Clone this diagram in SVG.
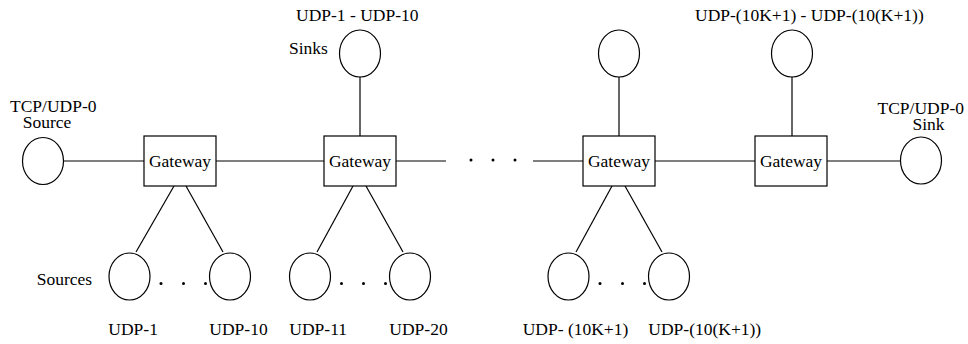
<svg xmlns="http://www.w3.org/2000/svg" width="968" height="344" viewBox="0 0 968 344">
<style>
text{font-family:"Liberation Serif","Times New Roman",serif;font-size:17.5px;fill:#000}
.n{fill:#fff;stroke:#000;stroke-width:1.2}
.c line{stroke:#000;stroke-width:1.2}
.d circle{fill:#000}
.m{text-anchor:middle}
</style>
<rect width="968" height="344" fill="#fff"/>
<g class="c" id="connectors">
<line x1="63.5" y1="161" x2="144" y2="161"/>
<line x1="216" y1="161" x2="324" y2="161"/>
<line x1="396" y1="161" x2="446" y2="161"/>
<line x1="533" y1="161" x2="583" y2="161"/>
<line x1="655" y1="161" x2="755" y2="161"/>
<line x1="827" y1="161" x2="900.5" y2="161"/>
<line x1="360" y1="77" x2="360" y2="136"/>
<line x1="619" y1="77" x2="619" y2="136"/>
<line x1="792" y1="77" x2="792" y2="136"/>
<line x1="174" y1="186" x2="136" y2="252"/>
<line x1="186" y1="186" x2="223" y2="252"/>
<line x1="353" y1="186" x2="317" y2="252"/>
<line x1="366" y1="186" x2="403" y2="252"/>
<line x1="612" y1="186" x2="576" y2="252"/>
<line x1="625" y1="186" x2="662" y2="252"/>
</g>
<g class="d" id="dots">
<circle cx="471" cy="160" r="1.5"/><circle cx="493" cy="160" r="1.5"/><circle cx="515" cy="160" r="1.5"/>
<circle cx="161" cy="283.5" r="1.5"/><circle cx="183.5" cy="283.5" r="1.5"/><circle cx="205.5" cy="283.5" r="1.5"/>
<circle cx="341.5" cy="283.5" r="1.5"/><circle cx="363.5" cy="283.5" r="1.5"/><circle cx="385.5" cy="283.5" r="1.5"/>
<circle cx="600" cy="283.5" r="1.5"/><circle cx="622.5" cy="283.5" r="1.5"/><circle cx="644.5" cy="283.5" r="1.5"/>
</g>
<g id="src0"><ellipse class="n" cx="43" cy="161" rx="20.5" ry="23.5"/><text x="10" y="112">TCP/UDP-0</text><text x="22.7" y="128">Source</text></g>
<g id="sink0"><ellipse class="n" cx="921" cy="160.5" rx="20.5" ry="23.5"/><text x="877.5" y="114">TCP/UDP-0</text><text x="912.5" y="130">Sink</text></g>
<g id="gw1"><rect class="n" x="144" y="136" width="72" height="50"/><text class="m" x="180" y="166.5">Gateway</text></g>
<g id="gw2"><rect class="n" x="324" y="136" width="72" height="50"/><text class="m" x="360" y="166.5">Gateway</text></g>
<g id="gw3"><rect class="n" x="583" y="136" width="72" height="50"/><text class="m" x="619" y="166.5">Gateway</text></g>
<g id="gw4"><rect class="n" x="755" y="136" width="72" height="50"/><text class="m" x="791" y="166.5">Gateway</text></g>
<g id="sink1"><ellipse class="n" cx="360" cy="53.5" rx="20.5" ry="23.5"/><text x="296" y="20.5">UDP-1 - UDP-10</text><text x="289" y="54">Sinks</text></g>
<g id="sink2"><ellipse class="n" cx="619" cy="53.5" rx="20.5" ry="23.5"/></g>
<g id="sink3"><ellipse class="n" cx="792" cy="53.5" rx="20.5" ry="23.5"/><text x="695" y="20.5">UDP-(10K+1) - UDP-(10(K+1))</text></g>
<g id="sources-label"><text x="36.7" y="285">Sources</text></g>
<g id="s1"><ellipse class="n" cx="129.5" cy="276.5" rx="20.5" ry="23.5"/><text x="108.3" y="335">UDP-1</text></g>
<g id="s10"><ellipse class="n" cx="230" cy="276.5" rx="20.5" ry="23.5"/><text x="209.3" y="335">UDP-10</text></g>
<g id="s11"><ellipse class="n" cx="310" cy="276.5" rx="20.5" ry="23.5"/><text x="289.3" y="335">UDP-11</text></g>
<g id="s20"><ellipse class="n" cx="410" cy="276.5" rx="20.5" ry="23.5"/><text x="389.3" y="335">UDP-20</text></g>
<g id="sk1"><ellipse class="n" cx="568.5" cy="276.5" rx="20.5" ry="23.5"/><text x="522.7" y="335">UDP- (10K+1)</text></g>
<g id="sk2"><ellipse class="n" cx="669" cy="276.5" rx="20.5" ry="23.5"/><text x="648.3" y="335">UDP-(10(K+1))</text></g>
</svg>
